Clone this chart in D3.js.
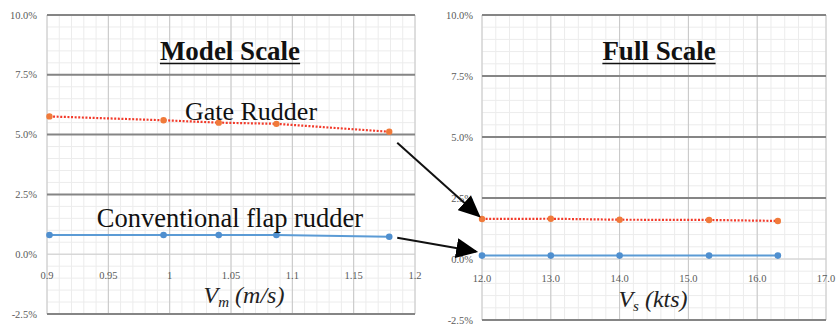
<!DOCTYPE html>
<html>
<head>
<meta charset="utf-8">
<script src="https://cdn.jsdelivr.net/npm/d3@7"></script>
<style>
  html, body { margin: 0; padding: 0; background: #fff; }
  svg { display: block; }
  svg text { font-family: "Liberation Serif", "Times New Roman", "DejaVu Serif", serif; }
</style>
</head>
<body>
<svg id="chart" width="839" height="327"></svg>
<script>
// Model-scale test speeds (m/s) and effect (%)
const modelSpeeds = [0.902, 0.995, 1.040, 1.087, 1.179];
const modelGate = [5.76, 5.60, 5.50, 5.45, 5.12];
const modelConv = [0.80, 0.80, 0.80, 0.80, 0.73];

// Full-scale ship speeds (kts) and effect (%)
const fullSpeeds = [12.0, 13.0, 14.0, 15.3, 16.3];
const fullGate = [1.64, 1.65, 1.61, 1.60, 1.56];
const fullConv = [0.14, 0.14, 0.14, 0.14, 0.14];

const yTicks = [-2.5, 0, 2.5, 5.0, 7.5, 10.0];
const modelXTicks = [0.9, 0.95, 1.0, 1.05, 1.1, 1.15, 1.2];
const fullXTicks = [12, 13, 14, 15, 16, 17];

const seriesNames = ["Gate Rudder", "Conventional flap rudder"];

const svg = d3.select("#chart");

const defs = svg.append("defs");
defs.append("marker")
  .attr("id", "arrowhead")
  .attr("viewBox", "0 0 10 10")
  .attr("refX", 9).attr("refY", 5)
  .attr("markerWidth", 11).attr("markerHeight", 10)
  .attr("markerUnits", "strokeWidth")
  .attr("orient", "auto")
  .attr("preserveAspectRatio", "none")
  .append("path").attr("d", "M0,0 L10,5 L0,10 Z").attr("fill", "#000");

function panel(opts) {
  const { xDomain, xRange, yRange, xTicks, xFmt, minorX, speeds, gate, conv, title, titleX, xLabelBase, xLabelSub, xLabelRest, xTitleX, xTitleY, yLabelX, xLabelY } = opts;
  const x = d3.scaleLinear().domain(xDomain).range(xRange);
  const y = d3.scaleLinear().domain([-2.5, 10]).range(yRange);
  const g = svg.append("g");

  // minor grid
  const minorYs = d3.range(-2.5, 10.001, 0.5);
  g.selectAll(".minY").data(minorYs).join("line")
    .attr("x1", xRange[0]).attr("x2", xRange[1])
    .attr("y1", d => y(d)).attr("y2", d => y(d))
    .attr("stroke", "#ececec").attr("stroke-width", 1);
  const minorXs = d3.range(xDomain[0], xDomain[1] + 1e-6, minorX);
  g.selectAll(".minX").data(minorXs).join("line")
    .attr("x1", d => x(d)).attr("x2", d => x(d))
    .attr("y1", yRange[0]).attr("y2", yRange[1])
    .attr("stroke", "#ececec").attr("stroke-width", 1);

  // major vertical grid
  g.selectAll(".majX").data(xTicks).join("line")
    .attr("x1", d => x(d)).attr("x2", d => x(d))
    .attr("y1", yRange[0]).attr("y2", yRange[1])
    .attr("stroke", "#c6c6c6").attr("stroke-width", 1);

  // major horizontal grid
  g.selectAll(".majY").data(yTicks).join("line")
    .attr("x1", xRange[0]).attr("x2", xRange[1])
    .attr("y1", d => y(d)).attr("y2", d => y(d))
    .attr("stroke", d => d === 0 ? "#cccccc" : "#858585")
    .attr("stroke-width", d => d === 0 ? 1 : 2);

  // y tick labels
  g.selectAll(".yl").data(yTicks).join("text")
    .attr("x", yLabelX).attr("y", d => y(d) + 3.5)
    .attr("text-anchor", "end")
    .attr("font-size", 10.5)
    .attr("fill", "#5a5a5a")
    .text(d => d.toFixed(1) + "%");

  // x tick labels
  g.selectAll(".xl").data(xTicks).join("text")
    .attr("x", d => x(d)).attr("y", xLabelY)
    .attr("text-anchor", "middle")
    .attr("font-size", 10.5)
    .attr("fill", "#5a5a5a")
    .text(xFmt);

  // series
  const line = d3.line().x(d => x(d[0])).y(d => y(d[1]));
  const gatePts = speeds.map((s, i) => [s, gate[i]]);
  const convPts = speeds.map((s, i) => [s, conv[i]]);

  g.append("path").datum(convPts).attr("d", line)
    .attr("fill", "none").attr("stroke", "#5b9bd5").attr("stroke-width", 2);
  g.selectAll(".cm").data(convPts).join("circle")
    .attr("cx", d => x(d[0])).attr("cy", d => y(d[1])).attr("r", 3.3)
    .attr("fill", "#4f8fcf");

  g.append("path").datum(gatePts).attr("d", line)
    .attr("fill", "none").attr("stroke", "#f23a2a").attr("stroke-width", 2.2)
    .attr("stroke-dasharray", "2,1.6");
  g.selectAll(".gm").data(gatePts).join("circle")
    .attr("cx", d => x(d[0])).attr("cy", d => y(d[1])).attr("r", 3.2)
    .attr("fill", "#f07a3a");

  // panel title
  const t = g.append("text")
    .attr("x", titleX).attr("y", 60)
    .attr("text-anchor", "middle")
    .attr("font-weight", "bold").attr("font-size", 27)
    .attr("fill", "#111").text(title);
  const bb = t.node().getBBox();
  g.append("line")
    .attr("x1", bb.x).attr("x2", bb.x + bb.width)
    .attr("y1", 63.5).attr("y2", 63.5)
    .attr("stroke", "#111").attr("stroke-width", 1.6);

  // x-axis title
  const xt = g.append("text")
    .attr("x", xTitleX).attr("y", xTitleY)
    .attr("text-anchor", "middle")
    .attr("font-style", "italic").attr("font-size", 24)
    .attr("fill", "#222");
  xt.append("tspan").text(xLabelBase);
  xt.append("tspan").attr("font-size", 15).attr("dy", 4).text(xLabelSub);
  xt.append("tspan").attr("dy", -4).text(" " + xLabelRest);

  return { x, y };
}

const left = panel({
  xDomain: [0.9, 1.2], xRange: [47, 415], yRange: [314, 15],
  xTicks: modelXTicks, xFmt: d => String(+d.toFixed(2)), minorX: 0.01,
  speeds: modelSpeeds, gate: modelGate, conv: modelConv,
  title: "Model Scale", titleX: 230,
  xLabelBase: "V", xLabelSub: "m", xLabelRest: "(m/s)", xTitleX: 244, xTitleY: 303,
  yLabelX: 37, xLabelY: 279
});

const right = panel({
  xDomain: [12, 17], xRange: [482, 826], yRange: [320, 15],
  xTicks: fullXTicks, xFmt: d => d.toFixed(1), minorX: 0.2,
  speeds: fullSpeeds, gate: fullGate, conv: fullConv,
  title: "Full Scale", titleX: 659,
  xLabelBase: "V", xLabelSub: "s", xLabelRest: "(kts)", xTitleX: 653, xTitleY: 307,
  yLabelX: 473, xLabelY: 282
});

// series annotations
svg.append("text").attr("x", 251).attr("y", 120)
  .attr("text-anchor", "middle").attr("font-size", 26)
  .attr("fill", "#111").text(seriesNames[0]);
svg.append("text").attr("x", 230).attr("y", 227)
  .attr("text-anchor", "middle").attr("font-size", 26.5)
  .attr("fill", "#111").text(seriesNames[1]);

// arrows linking model-scale results to full-scale results
const last = modelSpeeds.length - 1;
const arrows = [
  { x1: left.x(modelSpeeds[last]) + 8, y1: left.y(modelGate[last]) + 11,
    x2: right.x(fullSpeeds[0]) - 3, y2: right.y(fullGate[0]) - 3 },
  { x1: left.x(modelSpeeds[last]) + 8, y1: left.y(modelConv[last]) + 1,
    x2: right.x(fullSpeeds[0]) - 6, y2: right.y(fullConv[0]) - 4 }
];
svg.selectAll(".arrow").data(arrows).join("line")
  .attr("x1", d => d.x1).attr("y1", d => d.y1)
  .attr("x2", d => d.x2).attr("y2", d => d.y2)
  .attr("stroke", "#111").attr("stroke-width", 2)
  .attr("marker-end", "url(#arrowhead)");
</script>
</body>
</html>
